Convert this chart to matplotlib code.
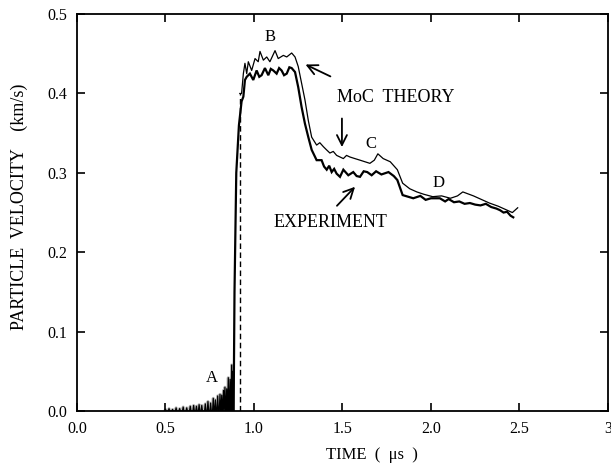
import matplotlib
matplotlib.use("Agg")
import matplotlib.pyplot as plt

# MoC theory (upper curve after shock)
theory_t = [0.930, 0.940, 0.949, 0.959, 0.968, 0.987, 1.006, 1.024, 1.034, 1.053, 1.072, 1.090,
            1.119, 1.137, 1.166, 1.185, 1.213, 1.232, 1.250, 1.269, 1.288, 1.307, 1.326, 1.354,
            1.372, 1.392, 1.410, 1.429, 1.448, 1.467, 1.486, 1.505, 1.523, 1.542, 1.570, 1.599,
            1.627, 1.655, 1.680, 1.700, 1.730, 1.770, 1.810, 1.840, 1.880, 1.920, 1.960, 2.010,
            2.060, 2.110, 2.150, 2.180, 2.240, 2.290, 2.330, 2.380, 2.430, 2.460, 2.490]
theory_v = [0.400, 0.425, 0.438, 0.425, 0.440, 0.429, 0.444, 0.440, 0.453, 0.442, 0.446, 0.440,
            0.454, 0.444, 0.448, 0.446, 0.451, 0.446, 0.434, 0.413, 0.392, 0.366, 0.345, 0.335,
            0.338, 0.333, 0.329, 0.325, 0.327, 0.322, 0.320, 0.318, 0.322, 0.320, 0.318, 0.316,
            0.314, 0.312, 0.316, 0.324, 0.318, 0.314, 0.304, 0.287, 0.280, 0.276, 0.273, 0.270,
            0.271, 0.268, 0.271, 0.276, 0.271, 0.266, 0.262, 0.258, 0.253, 0.250, 0.256]
shock_t = 0.920          # theory shock front (dashed)
shock_top = 0.400

# experiment (lower curve after shock)
exp_t = [0.885, 0.890, 0.900, 0.915, 0.930, 0.940, 0.949, 0.959, 0.977, 0.996, 1.015, 1.030,
         1.043, 1.062, 1.081, 1.095, 1.109, 1.128, 1.142, 1.156, 1.170, 1.185, 1.200, 1.213,
         1.232, 1.250, 1.269, 1.288, 1.307, 1.326, 1.354, 1.382, 1.396, 1.411, 1.425, 1.439,
         1.453, 1.467, 1.486, 1.505, 1.533, 1.561, 1.580, 1.599, 1.620, 1.640, 1.665, 1.690,
         1.720, 1.760, 1.790, 1.810, 1.840, 1.870, 1.900, 1.940, 1.970, 2.000, 2.050, 2.080,
         2.100, 2.130, 2.160, 2.190, 2.220, 2.250, 2.280, 2.310, 2.340, 2.370, 2.390, 2.410,
         2.430, 2.450, 2.465]
exp_v = [0.000, 0.150, 0.300, 0.360, 0.390, 0.396, 0.417, 0.421, 0.425, 0.417, 0.429, 0.421,
         0.423, 0.432, 0.423, 0.431, 0.429, 0.425, 0.432, 0.429, 0.423, 0.425, 0.433, 0.432,
         0.427, 0.408, 0.383, 0.362, 0.345, 0.329, 0.316, 0.316, 0.308, 0.304, 0.309, 0.301,
         0.305, 0.299, 0.295, 0.304, 0.297, 0.301, 0.296, 0.295, 0.302, 0.301, 0.297, 0.302,
         0.298, 0.301, 0.296, 0.291, 0.272, 0.270, 0.268, 0.271, 0.266, 0.268, 0.268, 0.264,
         0.267, 0.263, 0.264, 0.261, 0.262, 0.260, 0.259, 0.261, 0.257, 0.255, 0.253, 0.250,
         0.251, 0.246, 0.244]

# precursor oscillations (region A): spike times and peak heights
spike_t = [0.500, 0.520, 0.540, 0.560, 0.580, 0.600, 0.620, 0.640, 0.659, 0.675, 0.690, 0.705,
           0.725, 0.740, 0.755, 0.770, 0.782, 0.795, 0.808, 0.818, 0.828, 0.836, 0.846, 0.855,
           0.865, 0.874, 0.880]
spike_v = [0.002, 0.003, 0.002, 0.004, 0.003, 0.005, 0.004, 0.006, 0.007, 0.006, 0.008, 0.007,
           0.009, 0.012, 0.010, 0.016, 0.014, 0.019, 0.021, 0.020, 0.026, 0.030, 0.028, 0.042,
           0.040, 0.058, 0.050]

x_ticks = [0.0, 0.5, 1.0, 1.5, 2.0, 2.5, 3.0]
x_ticklabels = ["0.0", "0.5", "1.0", "1.5", "2.0", "2.5", "3"]
y_ticks = [0.0, 0.1, 0.2, 0.3, 0.4, 0.5]
y_ticklabels = ["0.0", "0.1", "0.2", "0.3", "0.4", "0.5"]

plt.rcParams["font.family"] = ["Liberation Serif", "DejaVu Serif"]
plt.rcParams["font.size"] = 11

fig = plt.figure(figsize=(6.11, 4.70), dpi=100)
ax = fig.add_axes([0.126, 0.1255, 0.869, 0.8445])

# precursor: zig-zag between baseline and each spike peak
pt, pv = [], []
for t, v in zip(spike_t, spike_v):
    pt += [t - 0.004, t, t + 0.004]
    pv += [0.0, v, 0.0]
ax.plot(pt, pv, color="black", lw=0.9)
ax.plot(pt, pv, color="0.45", lw=2.2, alpha=0.5, zorder=1)

ax.plot(exp_t, exp_v, color="black", lw=1.6, solid_joinstyle="miter")
ax.plot([shock_t, shock_t], [0.0, shock_top], color="black", lw=1.0, ls=(0, (4, 2.5)))
ax.plot([shock_t] + theory_t, [shock_top] + theory_v, color="black", lw=0.9)

ax.set_xlim(0, 3)
ax.set_ylim(0, 0.5)
ax.set_xticks(x_ticks)
ax.set_xticklabels(x_ticklabels)
ax.set_yticks(y_ticks)
ax.set_yticklabels(y_ticklabels)
ax.tick_params(direction="in", length=6, width=1.2, top=True, right=True,
               labelsize=11.5, pad=7)
for s in ax.spines.values():
    s.set_linewidth(1.3)

# axis titles placed by hand (wide spacing, off-centre like the original)
fig.text(372 / 611, 1 - 455 / 470, "TIME  (  \u03bcs  )", ha="center", va="center", fontsize=12)
fig.text(19 / 611, 1 - 207 / 470, "PARTICLE  VELOCITY    (km/s)", ha="center", va="center",
         rotation=90, fontsize=13)

ax.text(0.76, 0.042, "A", ha="center", va="center", fontsize=12)
ax.text(1.09, 0.471, "B", ha="center", va="center", fontsize=12)
ax.text(1.66, 0.336, "C", ha="center", va="center", fontsize=12)
ax.text(2.04, 0.287, "D", ha="center", va="center", fontsize=12)
ax.text(1.80, 0.395, "MoC  THEORY", ha="center", va="center", fontsize=13)
ax.text(1.43, 0.238, "EXPERIMENT", ha="center", va="center", fontsize=13)

arr = dict(arrowstyle="->", lw=1.3, color="black", mutation_scale=18)
ax.annotate("", xy=(1.277, 0.438), xytext=(1.446, 0.420), arrowprops=arr)
ax.annotate("", xy=(1.497, 0.329), xytext=(1.497, 0.372), arrowprops=arr)
ax.annotate("", xy=(1.582, 0.285), xytext=(1.458, 0.256), arrowprops=arr)

fig.savefig("out.png", dpi=100)
